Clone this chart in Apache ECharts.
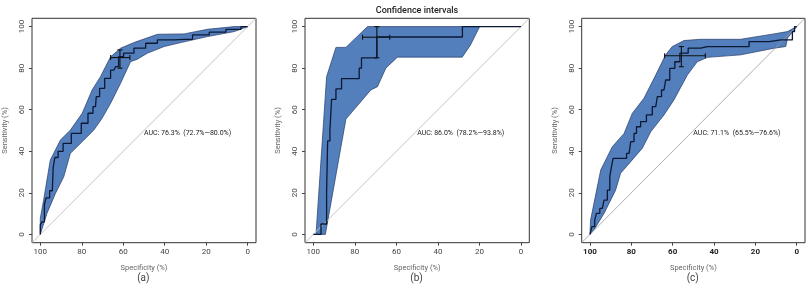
<!DOCTYPE html>
<html>
<head>
<meta charset="utf-8">
<script src="https://cdn.jsdelivr.net/npm/echarts@6/dist/echarts.min.js"></script>
<style>
  html, body { margin: 0; padding: 0; background: #fff; }
  #main { width: 811px; height: 291px; }
</style>
</head>
<body>
<div id="main"></div>
<script>
// tick values shared by every axis
var tickValues = [0, 20, 40, 60, 80, 100];
// chance line, drawn across the whole plot region
var chanceLine = [[104, -4], [-4, 104]];

// panel (a)  [specificity, sensitivity]
var curveA = [[100,0],[100,4.6],[98.4,6],[97.6,14.5],[96.8,17.6],[94.2,21],[93.4,32.1],[92.6,37],[90.2,40],[87.8,43.8],
  [82.3,48.6],[78.2,53.5],[75.8,58.3],[73.4,61.5],[72.6,66.3],[70.2,70.3],[67.7,75.1],[64.5,79.1],[62.9,80.7],[61.6,85.5],
  [58.1,87.2],[51.6,89.6],[46.8,92],[40.3,93.6],[30.6,93.9],[22.6,96],[14.5,97.3],[6.5,98.7],[0,100]];
var bandUpperA = [[100,0],[100,7.7],[98.4,16.5],[95.2,35.7],[90.3,45.4],[85.5,50.2],[79.8,58.3],[75,69.5],[71,75.9],
  [66.1,85.5],[61.3,89.6],[54.9,92.3],[43.5,96.3],[30.6,96.5],[19.4,98.7],[6.5,100],[0,100]];
var bandLowerA = [[6.5,97.6],[19.4,95.2],[32.3,92.3],[40.3,90.4],[48.4,87.2],[53.2,84.3],[56.5,83.1],[61.3,72.7],
  [66.1,63.1],[70.2,55.9],[74.2,50.2],[79,45.4],[85.5,39],[88.7,27.7],[92.7,19.7],[96.8,10.1]];
var ciSpA = [66.1, 61.6, 56.8];
var ciSeA = [80, 85.1, 88.8];
var aucA = 'AUC: 76.3%  (72.7%\u201480.0%)';

// panel (b)
var curveB = [[100,0],[96.3,0],[93.6,5],[93.1,20],[92,45],[91.2,50],[89.1,65],[86.4,70],[77.9,75],[76.8,80],
  [69.4,85],[28.2,95],[0,100]];
var bandUpperB = [[98.7,0],[93.6,75.9],[89.1,90],[84.3,90],[73.9,100],[19.9,100]];
var bandLowerB = [[24.3,91.2],[28.3,85.3],[59.5,85.3],[65.1,80],[69.1,71.1],[72.3,69.5],[84.3,55.5],[94.2,0]];
var ciSpB = [76.3, 69.4, 63.2];
var ciSeB = [85, 94.9, 100];
var aucB = 'AUC: 86.0%  (78.2%\u201493.8%)';

// panel (c)
var curveC = [[100,0],[98.1,3.7],[97.3,6.9],[96.5,10.1],[94,12.5],[92.4,16.5],[90.8,21.3],[90,27.8],[89.2,32.6],
  [88.4,36.6],[83.5,36.6],[81.1,39],[79.5,44.6],[77.9,48.6],[77.1,51.8],[73.9,54.3],[71.5,57.5],[68.2,61.5],
  [66.6,66.3],[64.2,69.5],[62.6,74.3],[60.2,79.9],[57.7,83.1],[55.3,87.2],[49.7,89.6],[43.2,90.4],[27.1,90.4],
  [19,92.8],[7.7,93.6],[2.1,93.6],[2.1,97.6],[0,100]];
var bandUpperC = [[100,0],[99.7,6.9],[94.8,31],[89.2,42.2],[83.5,48.6],[79.5,58.3],[73.9,65.5],[69,75.1],[63.4,86.4],
  [60.2,90.4],[54.5,93.3],[46.5,93.9],[27.1,93.9],[11,96.5],[4.5,97.6],[0,100]];
var bandLowerC = [[4.5,94.4],[5.3,90.4],[11,89.6],[27.1,86.4],[43.2,85.2],[48.1,83.1],[52.9,76.7],[59.4,64.7],
  [64.2,57.5],[70.6,49.4],[74.7,41.4],[80.3,35],[85.2,29.4],[87.6,21.3],[93.2,10.1],[98.1,2.1]];
var ciSpC = [63.9, 55.8, 44.2];
var ciSeC = [80.7, 86, 90.4];
var aucC = 'AUC: 71.1%  (65.5%\u201476.6%)';

var aucPos = [50, 48.5];
var panelLabels = ['(a)', '(b)', '(c)'];
var mainTitle = 'Confidence intervals';

var FONT = 'Roboto, "Noto Sans", sans-serif';
var grids = [
  { left: 31.7, top: 18.3, width: 224.3, height: 224.4 },
  { left: 305, top: 18.3, width: 224.3, height: 224.4 },
  { left: 581.7, top: 18.3, width: 223.3, height: 224.4 }
];

var panels = [
  { curve: curveA, step: 'middle', band: bandUpperA.concat(bandLowerA), ciSp: ciSpA, ciSe: ciSeA, auc: aucA },
  { curve: curveB, step: 'start', band: bandUpperB.concat(bandLowerB), ciSp: ciSpB, ciSe: ciSeB, auc: aucB },
  { curve: curveC, step: 'middle', band: bandUpperC.concat(bandLowerC), ciSp: ciSpC, ciSe: ciSeC, auc: aucC }
];

var xAxes = [], yAxes = [], series = [];

panels.forEach(function (p, i) {
  var boldX = i === 2;
  xAxes.push({
    type: 'value', gridIndex: i, inverse: true, min: -4, max: 104,
    splitLine: { show: false },
    axisLine: { show: false, onZero: false },
    axisTick: { show: true, length: 3, customValues: tickValues, lineStyle: { color: '#444', width: 1 } },
    axisLabel: { customValues: tickValues, fontFamily: FONT, fontSize: 8, color: boldX ? '#222' : '#444',
      fontWeight: boldX ? 'bold' : 'normal', margin: 5 },
    name: 'Specificity (%)', nameLocation: 'middle', nameGap: 21,
    nameTextStyle: { fontFamily: FONT, fontSize: 7.5, color: '#666' }
  });
  yAxes.push({
    type: 'value', gridIndex: i, min: -4, max: 104,
    splitLine: { show: false },
    axisLine: { show: false, onZero: false },
    axisTick: { show: true, length: 3, customValues: tickValues, lineStyle: { color: '#444', width: 1 } },
    axisLabel: { customValues: tickValues, rotate: 90, fontFamily: FONT, fontSize: 8, color: '#444', margin: 6 },
    name: 'Sensitivity (%)', nameLocation: 'middle', nameGap: 23,
    nameTextStyle: { fontFamily: FONT, fontSize: 7.5, color: '#666' }
  });

  // chance line
  series.push({
    type: 'line', xAxisIndex: i, yAxisIndex: i, data: chanceLine, symbol: 'none', silent: true,
    lineStyle: { color: i === 2 ? '#9a9a9a' : '#c4c4c4', width: i === 2 ? 0.8 : 1 }
  });

  // confidence band
  series.push({
    type: 'custom', xAxisIndex: i, yAxisIndex: i, data: p.band, silent: true,
    encode: { x: 0, y: 1 },
    renderItem: function (params, api) {
      if (params.dataIndex !== 0) return null;
      var pts = p.band.map(function (d) { return api.coord(d); });
      return {
        type: 'polygon',
        shape: { points: pts },
        style: { fill: '#547fbd', stroke: '#223a66', lineWidth: 0.7 }
      };
    }
  });

  // ROC curve
  series.push({
    type: 'line', xAxisIndex: i, yAxisIndex: i, data: p.curve, step: p.step, symbol: 'none', silent: true,
    lineStyle: { color: '#0c1834', width: 1.3 }
  });

  // CI cross at the best threshold
  series.push({
    type: 'custom', xAxisIndex: i, yAxisIndex: i, data: [[p.ciSp[1], p.ciSe[1]]], silent: true,
    encode: { x: 0, y: 1 },
    renderItem: function (params, api) {
      var h0 = api.coord([p.ciSp[0], p.ciSe[1]]);
      var h1 = api.coord([p.ciSp[2], p.ciSe[1]]);
      var v0 = api.coord([p.ciSp[1], p.ciSe[0]]);
      var v1 = api.coord([p.ciSp[1], p.ciSe[2]]);
      var c = 2.5;
      var st = { stroke: '#111', lineWidth: 1.1 };
      var seg = function (x1, y1, x2, y2) {
        return { type: 'line', shape: { x1: x1, y1: y1, x2: x2, y2: y2 }, style: st };
      };
      return {
        type: 'group',
        children: [
          seg(h0[0], h0[1], h1[0], h1[1]),
          seg(h0[0], h0[1] - c, h0[0], h0[1] + c),
          seg(h1[0], h1[1] - c, h1[0], h1[1] + c),
          seg(v0[0], v0[1], v1[0], v1[1]),
          seg(v0[0] - c, v0[1], v0[0] + c, v0[1]),
          seg(v1[0] - c, v1[1], v1[0] + c, v1[1])
        ]
      };
    }
  });

  // AUC text
  series.push({
    type: 'custom', xAxisIndex: i, yAxisIndex: i, data: [aucPos], silent: true,
    encode: { x: 0, y: 1 },
    renderItem: function (params, api) {
      var pt = api.coord(aucPos);
      return {
        type: 'text', x: pt[0], y: pt[1],
        style: { text: p.auc, fill: '#222', font: '7px ' + FONT, textAlign: 'left', textVerticalAlign: 'middle' }
      };
    }
  });
});

var centers = [143.3, 416.5, 692.7];
var graphics = panelLabels.map(function (t, i) {
  return {
    type: 'text', x: centers[i], y: 278.5,
    style: { text: t, fill: '#444', font: '10px ' + FONT, textAlign: 'center', textVerticalAlign: 'middle' }
  };
});
graphics.push({
  type: 'text', x: 417, y: 10.5,
  style: { text: mainTitle, fill: '#222', font: '500 9px ' + FONT, textAlign: 'center', textVerticalAlign: 'middle' }
});

var chart = echarts.init(document.getElementById('main'), null, { renderer: 'canvas' });
chart.setOption({
  backgroundColor: '#ffffff',
  animation: false,
  grid: grids.map(function (g) {
    return Object.assign({ show: true, borderColor: '#333', borderWidth: 1, backgroundColor: 'transparent' }, g);
  }),
  xAxis: xAxes,
  yAxis: yAxes,
  series: series,
  graphic: graphics
});
</script>
</body>
</html>
